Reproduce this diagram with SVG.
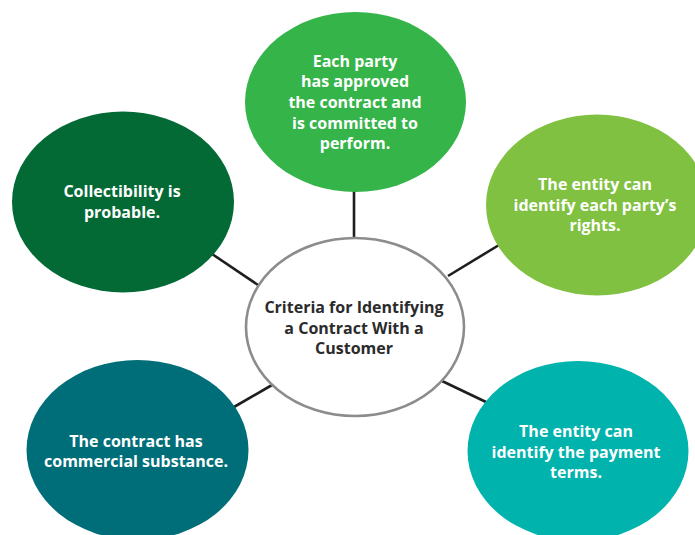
<svg xmlns="http://www.w3.org/2000/svg" width="695" height="535" viewBox="0 0 695 535">
<style>
.lbl{font-family:"Open Sans","Liberation Sans",sans-serif;font-weight:700;font-size:16px;text-anchor:middle;fill:#ffffff}
.dark{fill:#2b2b2b}
.conn{stroke:#1e1e1e;stroke-width:2.6;fill:none}
</style>
<rect width="695" height="535" fill="#ffffff"/>
<g id="connectors">
<line class="conn" x1="354" y1="190" x2="354" y2="239"/>
<line class="conn" x1="212" y1="254" x2="258" y2="285"/>
<line class="conn" x1="499" y1="245" x2="448" y2="276"/>
<line class="conn" x1="272" y1="385" x2="234" y2="407"/>
<line class="conn" x1="442" y1="381" x2="486" y2="402"/>
</g>
<g id="node-center">
<ellipse cx="355" cy="327" rx="109" ry="89" fill="#ffffff" stroke="#8c8c8c" stroke-width="2.6"/>
<text class="lbl dark" x="354" y="313">Criteria for Identifying</text>
<text class="lbl dark" x="354" y="333.5">a Contract With a</text>
<text class="lbl dark" x="354" y="354">Customer</text>
</g>
<g id="node-top">
<ellipse cx="355.5" cy="102" rx="110.5" ry="90" fill="#35b44a"/>
<text class="lbl" x="355" y="66.5">Each party</text>
<text class="lbl" x="355" y="87">has approved</text>
<text class="lbl" x="355" y="107.5">the contract and</text>
<text class="lbl" x="355" y="128.5">is committed to</text>
<text class="lbl" x="355" y="149">perform.</text>
</g>
<g id="node-left-top">
<ellipse cx="123" cy="202" rx="111" ry="90.5" fill="#036a35"/>
<text class="lbl" x="122" y="197">Collectibility is</text>
<text class="lbl" x="122" y="218">probable.</text>
</g>
<g id="node-right-top">
<ellipse cx="597" cy="205" rx="111" ry="90.5" fill="#80c142"/>
<text class="lbl" x="595" y="190">The entity can</text>
<text class="lbl" x="595" y="210.5">identify each party’s</text>
<text class="lbl" x="595" y="231">rights.</text>
</g>
<g id="node-bottom-left">
<ellipse cx="137.5" cy="450" rx="111" ry="90" fill="#006e78"/>
<text class="lbl" x="136" y="446.5">The contract has</text>
<text class="lbl" x="136" y="466.5">commercial substance.</text>
</g>
<g id="node-bottom-right">
<ellipse cx="578" cy="451" rx="110.5" ry="90" fill="#00b3ac"/>
<text class="lbl" x="576" y="436.5">The entity can</text>
<text class="lbl" x="576" y="457.5">identify the payment</text>
<text class="lbl" x="576" y="478">terms.</text>
</g>
</svg>
